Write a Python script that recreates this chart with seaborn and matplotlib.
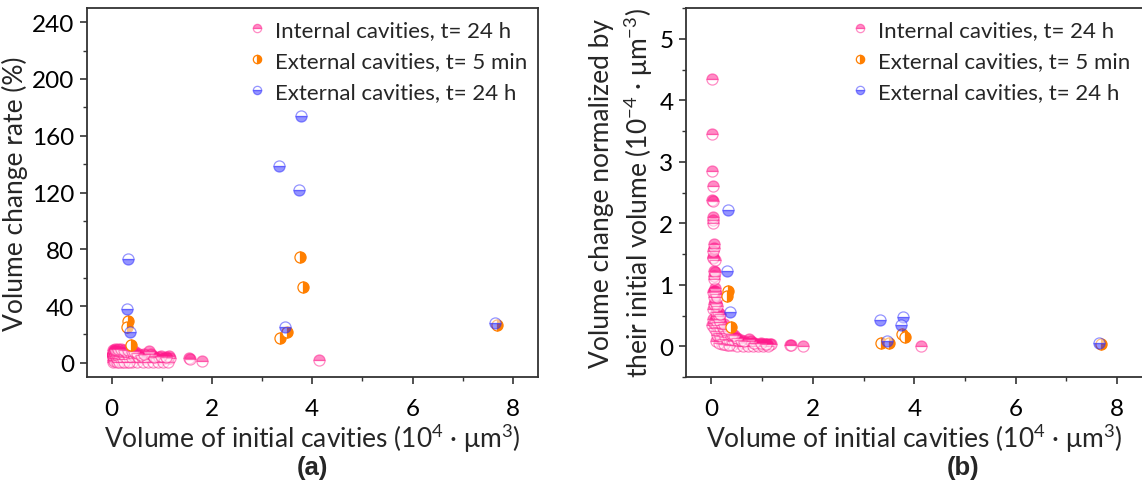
import numpy as np
import pandas as pd
import matplotlib
matplotlib.use("Agg")
import matplotlib.pyplot as plt
from matplotlib.ticker import MultipleLocator
import seaborn as sns

# ---------------- data ----------------
# Internal cavities, t = 24 h
pink_x = [0.02, 0.02, 0.02, 0.025, 0.02, 0.025, 0.03, 0.025, 0.03, 0.05,
          0.05, 0.04, 0.04, 0.03, 0.06, 0.07, 0.06, 0.05, 0.08, 0.05,
          0.07, 0.04, 0.09, 0.06, 0.08, 0.05, 0.10, 0.12, 0.03, 0.09,
          0.13, 0.11, 0.15, 0.04, 0.08, 0.16, 0.02, 0.06, 0.12, 0.18,
          0.10, 0.14, 0.20, 0.05, 0.17, 0.22, 0.10, 0.25, 0.15, 0.20,
          0.28, 0.12, 0.24, 0.30, 0.18, 0.33, 0.27, 0.38, 0.22, 0.35,
          0.42, 0.30, 0.45, 0.48, 0.40, 0.52, 0.55, 0.60, 0.65, 0.70,
          0.75, 0.78, 0.82, 0.88, 0.95, 1.00, 1.05, 1.10, 1.15, 1.17,
          1.55, 1.57, 1.80, 4.13, 0.10, 0.20, 0.30, 0.40, 0.50, 0.62,
          0.72, 0.82, 0.92, 1.02, 1.12, 0.15, 0.25, 0.35, 0.07, 0.12,
          0.18, 0.25, 0.32, 0.40, 0.45, 0.50, 0.58, 0.65, 0.85, 0.98,
          1.08]
pink_rate = [8.7, 6.9, 5.7, 6.5, 4.8, 5.9, 6.3, 5.1, 6.0, 8.4,
             8.0, 6.2, 5.8, 4.3, 7.4, 8.4, 6.9, 5.5, 7.6, 4.5,
             6.3, 3.5, 7.7, 4.8, 5.8, 3.4, 7.0, 7.8, 1.8, 5.0,
             7.2, 5.5, 7.5, 1.8, 3.4, 7.2, 0.7, 2.3, 4.8, 7.2,
             3.5, 4.5, 7.0, 1.5, 5.1, 6.6, 2.5, 7.0, 3.3, 4.4,
             7.0, 2.2, 4.8, 6.6, 2.9, 5.9, 4.1, 6.1, 2.6, 4.2,
             5.9, 3.0, 4.5, 6.2, 3.2, 4.2, 3.3, 4.2, 3.3, 3.5,
             8.3, 6.2, 4.9, 3.5, 3.8, 3.0, 3.7, 3.3, 4.6, 3.5,
             3.1, 2.7, 1.1, 1.7, 0.8, 0.8, 0.6, 0.6, 0.6, 0.6,
             0.7, 0.7, 0.7, 0.6, 0.7, 0.9, 0.75, 0.7, 9.8, 9.6,
             9.4, 9.0, 9.0, 8.0, 8.1, 7.0, 5.8, 5.9, 4.3, 4.9,
             4.3]
pink_norm = [4.35, 3.45, 2.85, 2.60, 2.38, 2.36, 2.10, 2.05, 2.00, 1.67,
             1.60, 1.55, 1.45, 1.43, 1.23, 1.20, 1.15, 1.10, 0.95, 0.90,
             0.90, 0.88, 0.85, 0.80, 0.72, 0.68, 0.70, 0.65, 0.60, 0.55,
             0.55, 0.50, 0.50, 0.45, 0.42, 0.45, 0.35, 0.38, 0.40, 0.40,
             0.35, 0.32, 0.35, 0.30, 0.30, 0.30, 0.25, 0.28, 0.22, 0.22,
             0.25, 0.18, 0.20, 0.22, 0.16, 0.18, 0.15, 0.16, 0.12, 0.12,
             0.14, 0.10, 0.10, 0.13, 0.08, 0.08, 0.06, 0.07, 0.05, 0.05,
             0.11, 0.08, 0.06, 0.04, 0.04, 0.03, 0.035, 0.03, 0.04, 0.03,
             0.02, 0.017, 0.006, 0.004, 0.08, 0.04, 0.02, 0.015, 0.012, 0.01,
             0.01, 0.008, 0.008, 0.006, 0.006, 0.06, 0.03, 0.02, 1.40, 0.80,
             0.52, 0.36, 0.28, 0.20, 0.18, 0.14, 0.10, 0.09, 0.05, 0.05,
             0.04]

# External cavities, t = 5 min
orange_x = [0.33, 0.30, 0.39, 3.76, 3.81, 3.35, 3.50, 7.68]
orange_rate = [29.3, 25.1, 12.4, 74.4, 53.5, 17.8, 21.8, 26.8]
orange_norm = [0.90, 0.82, 0.32, 0.20, 0.15, 0.05, 0.06, 0.035]

# External cavities, t = 24 h
blue_x = [0.32, 0.30, 0.37, 3.33, 3.74, 3.78, 3.46, 7.65]
blue_rate = [73.0, 38.0, 21.6, 138.6, 121.9, 174.0, 24.9, 28.2]
blue_norm = [2.21, 1.22, 0.56, 0.43, 0.34, 0.47, 0.09, 0.05]

labels = ["Internal cavities, t= 24 h",
          "External cavities, t= 5 min",
          "External cavities, t= 24 h"]

# ---------------- style ----------------
sns.set_style("ticks")
plt.rcParams["font.family"] = ["Lato", "DejaVu Sans"]
plt.rcParams["mathtext.fontset"] = "custom"
plt.rcParams["mathtext.rm"] = "Lato"
plt.rcParams["axes.edgecolor"] = "#333333"
plt.rcParams["axes.linewidth"] = 1.3
plt.rcParams["xtick.color"] = "#333333"
plt.rcParams["ytick.color"] = "#333333"

PINK = "#ff1a8c"
ORANGE = "#ff7f00"
BLUE = "#2a2aff"

fig = plt.figure(figsize=(11.42, 4.89), dpi=100)
axA = fig.add_axes([0.0758, 0.227, 0.3952, 0.7545])
axB = fig.add_axes([0.6007, 0.227, 0.3998, 0.7545])

series = [
    (pink_x, pink_rate, pink_norm, PINK, "top", 0.5, labels[0], 2),
    (orange_x, orange_rate, orange_norm, ORANGE, "right", 1.0, labels[1], 3),
    (blue_x, blue_rate, blue_norm, BLUE, "bottom", 0.5, labels[2], 4),
]

for ax, key in ((axA, "rate"), (axB, "norm")):
    for xs, rate, norm, col, fs, al, lab, z in series:
        df = pd.DataFrame({"x": xs, "y": rate if key == "rate" else norm})
        sns.lineplot(data=df, x="x", y="y", ax=ax, estimator=None, sort=False,
                     linestyle="", marker="o", markersize=8, fillstyle=fs,
                     color=col, markerfacecolor=col, markerfacecoloralt="white",
                     markeredgecolor=col, markeredgewidth=0.9, alpha=al,
                     label=lab, zorder=z)

for ax, lx in ((axA, 0.333), (axB, 0.338)):
    ax.set_xlim(-0.5, 8.5)
    ax.xaxis.set_major_locator(MultipleLocator(2))
    ax.xaxis.set_minor_locator(MultipleLocator(1))
    ax.tick_params(which="major", direction="out", length=5, width=1.2,
                   labelsize=17.5, pad=4, labelcolor="black")
    ax.tick_params(axis="x", which="major", pad=10)
    ax.tick_params(which="minor", direction="out", length=3, width=1.0)
    for s in ax.spines.values():
        s.set_visible(True)
    ax.set_xlabel(r"Volume of initial cavities ($\mathregular{10^4}$ · μm$\mathregular{^3}$)",
                  fontsize=19, labelpad=2)
    leg = ax.legend(loc="upper left", bbox_to_anchor=(lx, 1.004), frameon=False,
                    fontsize=16, handlelength=0.6, handletextpad=0.5,
                    labelspacing=0.5, borderaxespad=0.2)
    for h in leg.legend_handles:
        h.set_markersize(6)

axA.set_ylim(-10, 250)
axA.yaxis.set_major_locator(MultipleLocator(40))
axA.yaxis.set_minor_locator(MultipleLocator(20))
axA.set_ylabel("Volume change rate (%)", fontsize=19, labelpad=3)

axB.set_ylim(-0.5, 5.5)
axB.yaxis.set_major_locator(MultipleLocator(1))
axB.yaxis.set_minor_locator(MultipleLocator(0.5))
axB.set_ylabel("Volume change normalized by\n"
               r"their initial volume ($\mathregular{10^{-4}}$ · μm$\mathregular{^{-3}}$)",
               fontsize=19, labelpad=3, multialignment="center", linespacing=1.32)

fig.text(0.2734, 0.042, "(a)", fontsize=18.5, fontweight="bold", ha="center", va="center",
         family="Liberation Sans")
fig.text(0.8435, 0.042, "(b)", fontsize=18.5, fontweight="bold", ha="center", va="center",
         family="Liberation Sans")

fig.savefig("out.png", dpi=100)
